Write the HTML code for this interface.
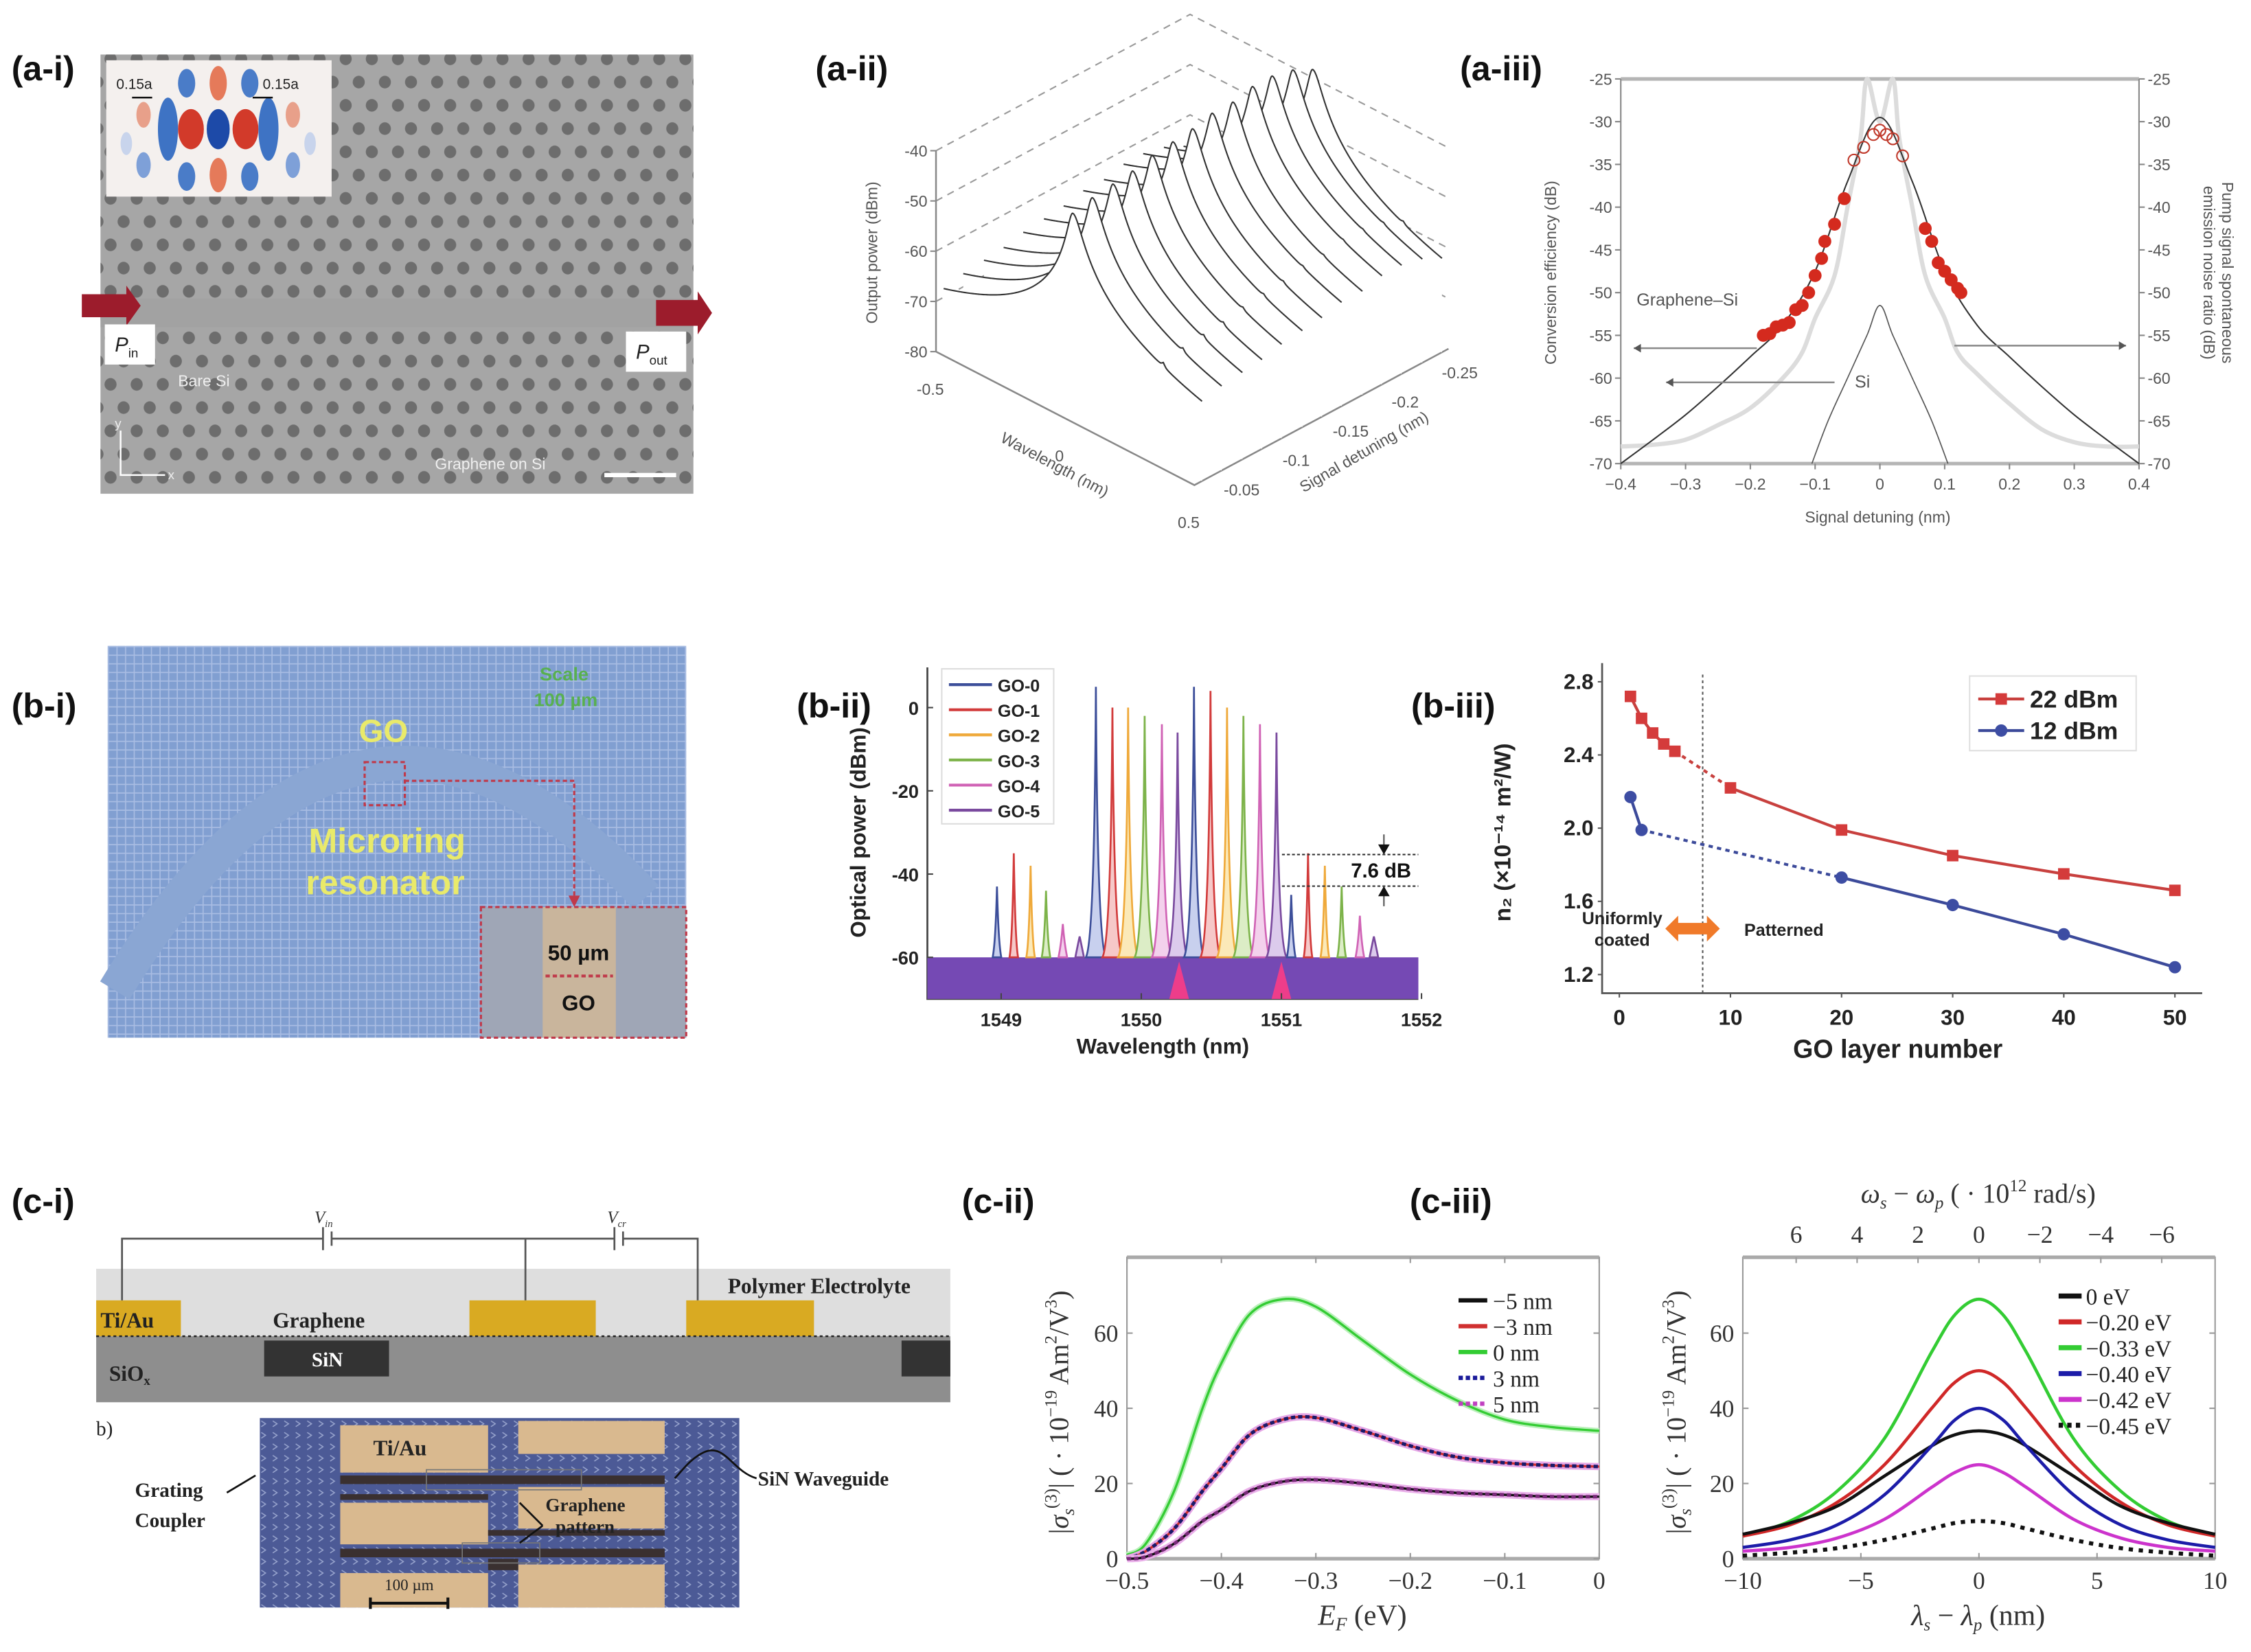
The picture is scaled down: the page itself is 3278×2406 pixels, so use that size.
<!DOCTYPE html>
<html><head><meta charset="utf-8"><style>
html,body{margin:0;padding:0;background:#fff;}
svg{display:block;}
.lbl{font-family:"Liberation Sans",sans-serif;font-weight:bold;font-size:24px;fill:#111;}
.sf{font-family:"Liberation Serif",serif;}
.ss{font-family:"Liberation Sans",sans-serif;}
</style></head><body>
<svg id="fig" xmlns="http://www.w3.org/2000/svg" width="3278" height="2406" viewBox="0 0 1568 1151" preserveAspectRatio="none">
<defs>
<pattern id="holes" x="77" y="41" width="36.4" height="32.4" patternUnits="userSpaceOnUse">
<ellipse cx="0" cy="0" rx="4.2" ry="4.4" fill="#6d6d6d"/><ellipse cx="18.2" cy="0" rx="4.2" ry="4.4" fill="#6d6d6d"/><ellipse cx="36.4" cy="0" rx="4.2" ry="4.4" fill="#6d6d6d"/>
<ellipse cx="9.1" cy="16.2" rx="4.2" ry="4.4" fill="#6d6d6d"/><ellipse cx="27.3" cy="16.2" rx="4.2" ry="4.4" fill="#6d6d6d"/>
<ellipse cx="0" cy="32.4" rx="4.2" ry="4.4" fill="#6d6d6d"/><ellipse cx="18.2" cy="32.4" rx="4.2" ry="4.4" fill="#6d6d6d"/><ellipse cx="36.4" cy="32.4" rx="4.2" ry="4.4" fill="#6d6d6d"/>
</pattern>
<pattern id="bgrid" x="75" y="450" width="6" height="6" patternUnits="userSpaceOnUse">
<rect width="6" height="6" fill="#819fd1"/><path d="M0,0.5H6M0.5,0V6" stroke="#a9bde3" stroke-width="0.8"/>
</pattern>
<pattern id="ggrid" x="181" y="988" width="8" height="8" patternUnits="userSpaceOnUse">
<rect width="8" height="8" fill="#4c5a96"/><path d="M1,2l3,2l-3,2" stroke="#9aa6cf" stroke-width="0.7" fill="none"/>
</pattern>
</defs>

<g>
<text class="lbl" x="8" y="56">(a-i)</text>
<rect x="70" y="38" width="413" height="306" fill="#a6a6a6"/>
<rect x="70" y="38" width="413" height="306" fill="url(#holes)"/>
<rect x="70" y="208" width="413" height="20" fill="#a2a2a2"/>
<rect x="74" y="42" width="157" height="95" fill="#f4f0ee"/>
<g>
<ellipse cx="133" cy="90" rx="9" ry="14" fill="#d23a2a"/><ellipse cx="152" cy="90" rx="8" ry="14" fill="#1d4aa8"/><ellipse cx="171" cy="90" rx="9" ry="14" fill="#d23a2a"/>
<ellipse cx="117" cy="90" rx="7" ry="22" fill="#3e73c4"/><ellipse cx="187" cy="90" rx="7" ry="22" fill="#3e73c4"/>
<ellipse cx="152" cy="58" rx="6" ry="12" fill="#e57a5a"/><ellipse cx="152" cy="122" rx="6" ry="12" fill="#e57a5a"/>
<ellipse cx="130" cy="58" rx="6" ry="10" fill="#4a7cc8"/><ellipse cx="174" cy="58" rx="6" ry="10" fill="#4a7cc8"/>
<ellipse cx="130" cy="123" rx="6" ry="10" fill="#4a7cc8"/><ellipse cx="174" cy="123" rx="6" ry="10" fill="#4a7cc8"/>
<ellipse cx="100" cy="80" rx="5" ry="9" fill="#e8a08a"/><ellipse cx="204" cy="80" rx="5" ry="9" fill="#e8a08a"/>
<ellipse cx="100" cy="115" rx="5" ry="9" fill="#7ea0d8"/><ellipse cx="204" cy="115" rx="5" ry="9" fill="#7ea0d8"/>
<ellipse cx="88" cy="100" rx="4" ry="8" fill="#c8d4ec"/><ellipse cx="216" cy="100" rx="4" ry="8" fill="#c8d4ec"/>
</g>
<text x="81" y="62" font-size="10" fill="#222" class="ss">0.15a</text>
<text x="183" y="62" font-size="10" fill="#222" class="ss">0.15a</text>
<path d="M92,68h14M190,68h-14" stroke="#111" stroke-width="1.2"/>
<polygon points="57,205 88,205 88,199 98,213 88,227 88,221 57,221" fill="#9c1c2c"/>
<polygon points="457,209 486,209 486,203 496,218 486,233 486,227 457,227" fill="#9c1c2c"/>
<rect x="73" y="226" width="35" height="28" fill="#fff"/>
<text x="80" y="245" font-size="14" font-style="italic" class="ss" fill="#222">P<tspan font-size="9" dy="4" font-style="normal">in</tspan></text>
<rect x="436" y="231" width="42" height="28" fill="#fff"/>
<text x="443" y="250" font-size="14" font-style="italic" class="ss" fill="#222">P<tspan font-size="9" dy="4" font-style="normal">out</tspan></text>
<text x="124" y="269" font-size="11" fill="#eee" class="ss">Bare Si</text>
<text x="303" y="327" font-size="11" fill="#eee" class="ss">Graphene on Si</text>
<path d="M421,331h50" stroke="#fff" stroke-width="3"/>
<path d="M84,300V331H115" stroke="#fff" stroke-width="1.2" fill="none"/>
<text x="80" y="298" font-size="9" fill="#eee" class="ss">y</text>
<text x="117" y="334" font-size="9" fill="#eee" class="ss">x</text>
</g>

<g id="aii">
<text class="lbl" x="568" y="56">(a-ii)</text>
</g>
<g id="aiii">
<text class="lbl" x="1017" y="56">(a-iii)</text>
</g>

<g>
<text class="lbl" x="8" y="500">(b-i)</text>
<rect x="75" y="450" width="403" height="273" fill="url(#bgrid)"/>
<path d="M80,690 Q250,410 450,625" stroke="#8aa6d3" stroke-width="24" fill="none"/>
<text x="250" y="517" font-size="22" font-weight="bold" fill="#e9ea6a" class="ss">GO</text>
<text x="215" y="594" font-size="24" font-weight="bold" fill="#e9ea6a" class="ss">Microring</text>
<text x="213" y="623" font-size="24" font-weight="bold" fill="#e9ea6a" class="ss">resonator</text>
<text x="376" y="474" font-size="13" font-weight="bold" fill="#58b050" class="ss">Scale</text>
<text x="372" y="492" font-size="13" font-weight="bold" fill="#58b050" class="ss">100 µm</text>
<rect x="254" y="531" width="28" height="30" fill="none" stroke="#c0394a" stroke-width="1.5" stroke-dasharray="3,2"/>
<path d="M282,544H400V628" stroke="#c0394a" stroke-width="1.5" stroke-dasharray="3,2" fill="none"/>
<polygon points="396,624 404,624 400,632" fill="#c0394a"/>
<rect x="335" y="632" width="143" height="91" fill="#9fa6b6"/>
<rect x="378" y="632" width="51" height="91" fill="#c9b59c"/>
<rect x="335" y="632" width="143" height="91" fill="none" stroke="#c0394a" stroke-width="1.5" stroke-dasharray="3,2"/>
<text x="403" y="669" text-anchor="middle" font-size="15" font-weight="bold" fill="#111" class="ss">50 µm</text>
<path d="M380,680H427" stroke="#c0394a" stroke-width="2" stroke-dasharray="3,2"/>
<text x="403" y="704" text-anchor="middle" font-size="15" font-weight="bold" fill="#111" class="ss">GO</text>
</g>

<g id="bii">
<text class="lbl" x="555" y="500">(b-ii)</text>
</g>
<g id="biii">
<text class="lbl" x="983" y="500">(b-iii)</text>
</g>

<g>
<text class="lbl" x="8" y="845">(c-i)</text>
<rect x="67" y="884" width="595" height="47" fill="#dedede"/>
<rect x="67" y="931" width="595" height="46" fill="#8e8e8e"/>
<rect x="67" y="906" width="59" height="25" fill="#d9aa22"/>
<rect x="327" y="906" width="88" height="25" fill="#d9aa22"/>
<rect x="478" y="906" width="89" height="25" fill="#d9aa22"/>
<path d="M67,931H662" stroke="#222" stroke-width="1.2" stroke-dasharray="2,2"/>
<rect x="184" y="934" width="87" height="25" fill="#333"/>
<rect x="628" y="934" width="34" height="25" fill="#333"/>
<path d="M85,906V863H225M231,863H428M434,863H486V906M366,863V906" stroke="#555" stroke-width="1.3" fill="none"/>
<path d="M225,855V871M231,858V868M428,855V871M434,858V868" stroke="#555" stroke-width="1.3"/>
<text x="219" y="852" font-size="12" font-style="italic" class="sf" fill="#333">V<tspan font-size="7" dy="3">in</tspan></text>
<text x="423" y="852" font-size="12" font-style="italic" class="sf" fill="#333">V<tspan font-size="7" dy="3">cr</tspan></text>
<text x="507" y="901" font-size="15" font-weight="bold" class="sf" fill="#222">Polymer Electrolyte</text>
<text x="70" y="925" font-size="15" font-weight="bold" class="sf" fill="#222">Ti/Au</text>
<text x="190" y="925" font-size="15" font-weight="bold" class="sf" fill="#222">Graphene</text>
<text x="228" y="952" text-anchor="middle" font-size="14" font-weight="bold" class="sf" fill="#fff">SiN</text>
<text x="76" y="962" font-size="15" font-weight="bold" class="sf" fill="#222">SiO<tspan font-size="9" dy="3">x</tspan></text>
<text x="67" y="1000" font-size="14" class="sf" fill="#222">b)</text>
<rect x="181" y="988" width="334" height="132" fill="url(#ggrid)"/>
<g fill="#d9b98f">
<rect x="237" y="993" width="103" height="33"/><rect x="361" y="990" width="102" height="23"/>
<rect x="237" y="1047" width="103" height="29"/><rect x="361" y="1036" width="102" height="29"/>
<rect x="237" y="1096" width="103" height="24"/><rect x="361" y="1090" width="102" height="30"/>
</g>
<g fill="#3a3030">
<rect x="237" y="1028" width="226" height="6"/><rect x="237" y="1041" width="103" height="4"/>
<rect x="237" y="1079" width="226" height="6"/><rect x="340" y="1066" width="123" height="4"/><rect x="340" y="1086" width="21" height="8"/>
</g>
<rect x="297" y="1024" width="108" height="14" fill="none" stroke="#777" stroke-width="0.8"/>
<rect x="322" y="1075" width="54" height="14" fill="none" stroke="#777" stroke-width="0.8"/>
<text x="260" y="1014" font-size="15" font-weight="bold" class="sf" fill="#222">Ti/Au</text>
<text x="380" y="1053" font-size="13" font-weight="bold" class="sf" fill="#222">Graphene</text>
<text x="387" y="1068" font-size="13" font-weight="bold" class="sf" fill="#222">pattern</text>
<path d="M378,1063L362,1047M378,1063L362,1075" stroke="#111" stroke-width="1.3"/>
<text x="528" y="1035" font-size="14" font-weight="bold" class="sf" fill="#222">SiN Waveguide</text>
<path d="M527,1030C510,1025 505,1005 490,1012 480,1017 475,1025 470,1030" stroke="#111" stroke-width="1.3" fill="none"/>
<text x="94" y="1043" font-size="14" font-weight="bold" class="sf" fill="#222">Grating</text>
<text x="94" y="1064" font-size="14" font-weight="bold" class="sf" fill="#222">Coupler</text>
<path d="M158,1040L178,1028" stroke="#111" stroke-width="1.3"/>
<path d="M258,1117H312M258,1113V1121M312,1113V1121" stroke="#111" stroke-width="2"/>
<text x="285" y="1108" text-anchor="middle" font-size="11" class="sf" fill="#222">100 µm</text>
</g>

<g id="cii">
<text class="lbl" x="670" y="845">(c-ii)</text>
</g>
<g id="ciii">
<text class="lbl" x="982" y="845">(c-iii)</text>
</g>
</svg>

<script>
const aiiDetuning = [-0.04,-0.058,-0.077,-0.095,-0.113,-0.132,-0.15,-0.168,-0.187,-0.205,-0.223,-0.242,-0.26];
const aiiPumpPeak = [-40,-39,-38.5,-38,-37,-36.5,-36,-35,-35,-34,-34,-35,-37];
const aiiIdlerPeak = [-68,-68,-68,-68,-68,-68,-68,-68,-68,-68,-68,-68,-68];
const aiiWlTicks = [-0.5,0,0.5];
const aiiDetTicks = [-0.05,-0.1,-0.15,-0.2,-0.25];
const aiiPowTicks = [-40,-50,-60,-70,-80];
const aiiiDet = [-0.4,-0.35,-0.3,-0.25,-0.2,-0.15,-0.1,-0.05,0,0.05,0.1,0.15,0.2,0.25,0.3,0.35,0.4];
const aiiiTheory = [-70,-67.2,-64.3,-61,-57.5,-53.8,-47.5,-37,-29.5,-37,-47.5,-53.8,-57.5,-61,-64.3,-67.2,-70];
const aiiiNoiseDet = [-0.4,-0.35,-0.3,-0.25,-0.2,-0.15,-0.12,-0.1,-0.07,-0.05,-0.03,-0.02,0,0.02,0.03,0.05,0.07,0.1,0.12,0.15,0.2,0.25,0.3,0.35,0.4];
const aiiiNoise = [-68,-67.8,-67.2,-65.5,-63.5,-60,-57,-53,-48,-40,-32,-25,-30,-25,-32,-40,-48,-53,-57,-59.5,-63,-66,-67.5,-68,-68];
const aiiiSiDet = [-0.105,-0.08,-0.05,-0.02,0,0.02,0.05,0.08,0.105];
const aiiiSi = [-70,-65,-60,-55,-51.5,-55,-60,-65,-70];
const aiiiDotDet = [-0.18,-0.17,-0.16,-0.15,-0.14,-0.13,-0.12,-0.11,-0.1,-0.09,-0.085,-0.07,-0.055,0.07,0.08,0.09,0.1,0.11,0.12,0.125];
const aiiiDotVal = [-55,-54.8,-54,-53.8,-53.5,-52,-51.5,-50,-48,-46,-44,-42,-39,-42.5,-44,-46.5,-47.5,-48.5,-49.5,-50];
const aiiiOpenDet = [-0.04,-0.025,-0.01,0,0.01,0.02,0.035];
const aiiiOpenVal = [-34.5,-33,-31.5,-31,-31.5,-32,-34];
const aiiiXTicks = [-0.4,-0.3,-0.2,-0.1,0,0.1,0.2,0.3,0.4];
const aiiiYTicks = [-25,-30,-35,-40,-45,-50,-55,-60,-65,-70];
const biiPeakWl = [1548.97,1549.09,1549.21,1549.32,1549.44,1549.56,1549.676,1549.794,1549.906,1550.024,1550.147,1550.259,1550.376,1550.494,1550.612,1550.729,1550.847,1550.965,1551.07,1551.19,1551.31,1551.43,1551.56,1551.66];
const biiPeakDb = [-43,-35,-38,-44,-52,-55,5,0,0,-2,-4,-6,5,4,0,-2,-4,-6,-45,-35,-38,-43,-50,-55];
const biiPeakGo = [0,1,2,3,4,5,0,1,2,3,4,5,0,1,2,3,4,5,0,1,2,3,4,5];
const biiGoNames = ['GO-0','GO-1','GO-2','GO-3','GO-4','GO-5'];
const biiXTicks = [1549,1550,1551,1552];
const biiYTicks = [0,-20,-40,-60];
const biiiLayersA = [1,2,3,4,5,10,20,30,40,50];
const biii22dBm = [2.72,2.6,2.52,2.46,2.42,2.22,1.99,1.85,1.75,1.66];
const biiiLayersB = [1,2,20,30,40,50];
const biii12dBm = [2.17,1.99,1.73,1.58,1.42,1.24];
const biiiXTicks = [0,10,20,30,40,50];
const biiiYTicks = [2.8,2.4,2.0,1.6,1.2];
const ciiEf = [-0.5,-0.48,-0.45,-0.42,-0.4,-0.37,-0.335,-0.3,-0.25,-0.2,-0.15,-0.1,-0.05,0];
const cii0nm = [1,4,18,40,52,65,69,67,58,49,42,37,35,34];
const cii3nm = [0,2,8,18,24,33,37,37.5,34,30,27,25.5,24.8,24.5];
const cii5nm = [0,0.5,4,10,13,18,20.5,21,20,18.5,17.5,17,16.5,16.5];
const ciiXTicks = [-0.5,-0.4,-0.3,-0.2,-0.1,0];
const ciiYTicks = [0,20,40,60];
const ciiiLam = [-10,-8,-6,-4,-2,-1,0,1,2,4,6,8,10];
const ciii0eV = [6.5,9.5,14,22,30,33,34,33,30,22,14,9.5,6.5];
const ciii020eV = [6,9,15,25,40,47,50,47,40,25,15,9,6];
const ciii033eV = [6,10,18,32,55,65,69,65,55,32,18,10,6];
const ciii040eV = [3,5,9,17,30,37,40,37,30,17,9,5,3];
const ciii042eV = [2,3,5.5,10.5,19,23,25,23,19,10.5,5.5,3,2];
const ciii045eV = [0.8,1.6,2.8,5,8,9.5,10,9.5,8,5,2.8,1.6,0.8];
const ciiiXTicks = [-10,-5,0,5,10];
const ciiiTopTicks = [6,4,2,0,-2,-4,-6];
const ciiiYTicks = [0,20,40,60];

const NS='http://www.w3.org/2000/svg';
function mk(parent, tag, attrs, name){
  const e=document.createElementNS(NS,tag);
  for(const k in attrs) e.setAttribute(k,attrs[k]);
  
  
  parent.appendChild(e); return e;
}
function txt(parent,x,y,s,attrs,name){ const e=mk(parent,'text',Object.assign({x:x,y:y},attrs),name); e.textContent=s; return e; }
function smooth(p){
  let d='M'+p[0][0].toFixed(2)+','+p[0][1].toFixed(2);
  for(let i=0;i<p.length-1;i++){
    const p0=p[Math.max(0,i-1)],p1=p[i],p2=p[i+1],p3=p[Math.min(p.length-1,i+2)];
    const c1=[p1[0]+(p2[0]-p0[0])/6,p1[1]+(p2[1]-p0[1])/6];
    const c2=[p2[0]-(p3[0]-p1[0])/6,p2[1]-(p3[1]-p1[1])/6];
    d+=' C'+c1[0].toFixed(2)+','+c1[1].toFixed(2)+' '+c2[0].toFixed(2)+','+c2[1].toFixed(2)+' '+p2[0].toFixed(2)+','+p2[1].toFixed(2);
  }
  return d;
}
function poly(p){ return 'M'+p.map(q=>q[0].toFixed(2)+','+q[1].toFixed(2)).join(' L'); }

(function(){
  const g=document.getElementById('aii');
  const O=[652,245], WV=[180,93], DV=[177,-95], HP=3.5, d0=-0.033, d1=-0.266;
  const P=(wl,det,p)=>{const u=(wl+0.5), v=(det-d0)/(d1-d0); return [O[0]+u*WV[0]+v*DV[0], O[1]+u*WV[1]+v*DV[1]-(p+80)*HP];};
  [-40,-50,-60,-70].forEach(p=>{
    const a=P(-0.5,d0,p), b=P(-0.5,d1,p), c=P(0.5,d1,p);
    mk(g,'path',{d:'M'+a+' L'+b+' L'+c,stroke:'#999','stroke-width':1,'stroke-dasharray':'5,4',fill:'none'},'grid-dashed-'+p);
  });
  const f0=P(-0.5,d0,-80), f1=P(0.5,d0,-80), f2=P(0.5,d1,-80);
  mk(g,'path',{d:'M'+f0+' L'+f1+' L'+f2,stroke:'#888','stroke-width':1.2,fill:'none'},'floor-axes');
  const top=P(-0.5,d0,-40);
  mk(g,'path',{d:'M'+f0+' L'+top,stroke:'#888','stroke-width':1.2},'power-axis');
  aiiPowTicks.forEach(p=>{const q=P(-0.5,d0,p);
    mk(g,'path',{d:'M'+q+' l-4,0',stroke:'#888'},'power-tick');
    txt(g,q[0]-6,q[1]+4,String(p),{'text-anchor':'end','font-size':11,fill:'#555',class:'ss'},'power-tick-label');});
  aiiWlTicks.forEach(w=>{const q=P(w,d0,-80);
    txt(g,q[0]-4,q[1]+30,String(w),{'text-anchor':'middle','font-size':11,fill:'#555',class:'ss'},'wavelength-tick-label');});
  aiiDetTicks.forEach(dt=>{const q=P(0.5,dt,-80);
    txt(g,q[0]+20,q[1]+14,String(dt),{'text-anchor':'middle','font-size':11,fill:'#555',class:'ss'},'detuning-tick-label');});
  txt(g,0,0,'Output power (dBm)',{transform:'translate(611,176) rotate(-90)','text-anchor':'middle','font-size':11,fill:'#555',class:'ss'},'power-axis-title');
  txt(g,0,0,'Wavelength (nm)',{transform:'translate(733,327) rotate(28)','text-anchor':'middle','font-size':11,fill:'#555',class:'ss'},'wavelength-axis-title');
  txt(g,0,0,'Signal detuning (nm)',{transform:'translate(952,318) rotate(-30)','text-anchor':'middle','font-size':11,fill:'#555',class:'ss'},'detuning-axis-title');
  const wls=[];
  for(let i=0;i<=200;i++) wls.push(-0.5+i/200);
  for(let i=0;i<=160;i++) wls.push(-0.08+i*0.001);
  wls.sort((a,b)=>a-b);
  for(let k=aiiDetuning.length-1;k>=0;k--){
    const det=aiiDetuning[k], pk=aiiPumpPeak[k], id=aiiIdlerPeak[k];
    const pts=[];
    wls.forEach(wl=>{
      const dx=wl;
      const w = dx<0?0.018:0.03;
      let lin=Math.pow(10,pk/10)/(1+(dx/w)*(dx/w));
      lin+=Math.pow(10,id/10)/(1+((wl-0.35)/0.006)*((wl-0.35)/0.006));
      lin+=Math.pow(10,-77/10)*(1+0.4*(wl+0.5));
      pts.push(P(wl,det,10*Math.log10(lin)));
    });
    const b0=P(0.5,det,-80), b1=P(-0.5,det,-80);
    mk(g,'path',{d:poly(pts)+' L'+b0+' L'+b1+' Z',fill:'#fff',stroke:'none'},'trace-fill');
    mk(g,'path',{d:poly(pts),fill:'none',stroke:'#333','stroke-width':1},'trace-'+det);
  }
})();

(function(){
  const g=document.getElementById('aiii');
  const X0=1129,X1=1490,Y0=55,Y1=323;
  const sx=v=>X0+(v+0.4)/0.8*(X1-X0), sy=v=>Y0+(-25-v)/45*(Y1-Y0);
  mk(g,'path',{d:`M${X0},${Y0}H${X1}M${X0},${Y1}H${X1}`,stroke:'#b5b5b5','stroke-width':2.5},'frame-top-bottom');
  mk(g,'path',{d:`M${X0},${Y0}V${Y1}M${X1},${Y0}V${Y1}`,stroke:'#888','stroke-width':1},'frame-sides');
  aiiiYTicks.forEach(v=>{
    mk(g,'path',{d:`M${X0-4},${sy(v)}H${X0}M${X1},${sy(v)}H${X1+4}`,stroke:'#888'},'y-tick');
    txt(g,X0-6,sy(v)+4,String(v),{'text-anchor':'end','font-size':11,fill:'#555',class:'ss'},'y-tick-label-left');
    txt(g,X1+6,sy(v)+4,String(v),{'font-size':11,fill:'#555',class:'ss'},'y-tick-label-right');
  });
  aiiiXTicks.forEach(v=>{
    mk(g,'path',{d:`M${sx(v)},${Y1}v4`,stroke:'#888'},'x-tick');
    txt(g,sx(v),Y1+18,String(v).replace('-','\u2212'),{'text-anchor':'middle','font-size':11,fill:'#555',class:'ss'},'x-tick-label');
  });
  txt(g,1308,364,'Signal detuning (nm)',{'text-anchor':'middle','font-size':11,fill:'#555',class:'ss'},'x-axis-title');
  txt(g,0,0,'Conversion efficiency (dB)',{transform:'translate(1084,190) rotate(-90)','text-anchor':'middle','font-size':11,fill:'#555',class:'ss'},'y-axis-title-left');
  txt(g,0,0,'Pump signal spontaneous',{transform:'translate(1548,190) rotate(90)','text-anchor':'middle','font-size':11,fill:'#555',class:'ss'},'y-axis-title-right-1');
  txt(g,0,0,'emission noise ratio (dB)',{transform:'translate(1535,190) rotate(90)','text-anchor':'middle','font-size':11,fill:'#555',class:'ss'},'y-axis-title-right-2');
  mk(g,'path',{d:smooth(aiiiNoiseDet.map((d,i)=>[sx(d),sy(aiiiNoise[i])])),fill:'none',stroke:'#dcdcdc','stroke-width':3},'noise-ratio-curve');
  mk(g,'path',{d:smooth(aiiiDet.map((d,i)=>[sx(d),sy(aiiiTheory[i])])),fill:'none',stroke:'#333','stroke-width':1},'graphene-si-theory');
  mk(g,'path',{d:smooth(aiiiSiDet.map((d,i)=>[sx(d),sy(aiiiSi[i])])),fill:'none',stroke:'#555','stroke-width':0.8},'si-theory');
  aiiiDotDet.forEach((d,i)=>mk(g,'circle',{cx:sx(d),cy:sy(aiiiDotVal[i]),r:4.5,fill:'#d42a1e'},'graphene-si-data-point'));
  aiiiOpenDet.forEach((d,i)=>mk(g,'circle',{cx:sx(d),cy:sy(aiiiOpenVal[i]),r:4,fill:'none',stroke:'#c0392b','stroke-width':1},'open-data-point'));
  txt(g,1140,213,'Graphene\u2013Si',{'font-size':12,fill:'#555',class:'ss'},'graphene-si-label');
  txt(g,1292,270,'Si',{'font-size':12,fill:'#555',class:'ss'},'si-label');
  mk(g,'path',{d:`M${sx(-0.19)},${sy(-56.5)}H${sx(-0.38)}M${sx(-0.07)},${sy(-60.5)}H${sx(-0.33)}M${sx(0.115)},${sy(-56.2)}H${sx(0.38)}`,stroke:'#888','stroke-width':1.2},'arrow-lines');
  mk(g,'path',{d:`M${sx(-0.38)},${sy(-56.5)}l5,-3v6zM${sx(-0.33)},${sy(-60.5)}l5,-3v6zM${sx(0.38)},${sy(-56.2)}l-5,-3v6z`,fill:'#555'},'arrow-heads');
})();

(function(){
  const g=document.getElementById('bii');
  const X0=646,X1=988,Y0=465,Y1=696;
  const sx=v=>795+(v-1550)*97.6, sy=v=>667+(-60-v)*2.9;
  const cols=['#3d4f9a','#d23b3b','#efa93a','#7db34a','#d063b5','#7a4a9e'];
  const fills=['#c8d0ee','#f6c8c8','#fbe9b8','#dcedc6','#f3d1ec','#dccbec'];
  mk(g,'path',{d:`M${X0},${Y0}V${Y1}H${X1}`,stroke:'#444','stroke-width':1.3,fill:'none'},'axes');
  mk(g,'rect',{x:X0,y:sy(-60),width:X1-X0,height:Y1-sy(-60),fill:'#7549b4'},'noise-floor');
  biiPeakWl.forEach((w,i)=>{
    const x=sx(w), yt=sy(biiPeakDb[i]), yb=sy(-60), hw=biiPeakDb[i]>-20?7:3;
    mk(g,'path',{d:`M${x-hw},${yb} Q${x-1},${yb-10} ${x},${yt} Q${x+1},${yb-10} ${x+hw},${yb} Z`,fill:fills[biiPeakGo[i]],stroke:cols[biiPeakGo[i]],'stroke-width':1.3},'peak-'+biiGoNames[biiPeakGo[i]]);
  });
  mk(g,'path',{d:`M${sx(1550.2)},${sy(-70)} L${sx(1550.27)},${sy(-61)} L${sx(1550.34)},${sy(-70)}Z M${sx(1550.93)},${sy(-70)} L${sx(1551.0)},${sy(-61)} L${sx(1551.07)},${sy(-70)}Z`,fill:'#ee3d8a'},'floor-pink-spots');
  biiYTicks.forEach(v=>{mk(g,'path',{d:`M${X0},${sy(v)}h4`,stroke:'#444'},'y-tick');
    txt(g,X0-6,sy(v)+5,String(v),{'text-anchor':'end','font-size':13,'font-weight':'bold',fill:'#222',class:'ss'},'y-tick-label');});
  biiXTicks.forEach(v=>{mk(g,'path',{d:`M${sx(v)},${Y1}v-4`,stroke:'#444'},'x-tick');
    txt(g,sx(v),Y1+19,String(v),{'text-anchor':'middle','font-size':13,'font-weight':'bold',fill:'#222',class:'ss'},'x-tick-label');});
  txt(g,810,734,'Wavelength (nm)',{'text-anchor':'middle','font-size':15,'font-weight':'bold',fill:'#222',class:'ss'},'x-axis-title');
  txt(g,0,0,'Optical power (dBm)',{transform:'translate(603,580) rotate(-90)','text-anchor':'middle','font-size':15,'font-weight':'bold',fill:'#222',class:'ss'},'y-axis-title');
  mk(g,'rect',{x:656,y:466,width:78,height:108,fill:'#fff',stroke:'#ddd'},'legend-box');
  biiGoNames.forEach((n,i)=>{const y=477+i*17.5;
    mk(g,'path',{d:`M661,${y}h30`,stroke:cols[i],'stroke-width':2},'legend-swatch-'+n);
    txt(g,695,y+5,n,{'font-size':12,'font-weight':'bold',fill:'#222',class:'ss'},'legend-entry-'+n);});
  mk(g,'path',{d:`M893,${sy(-35.3)}H988M893,${sy(-42.9)}H988`,stroke:'#333','stroke-width':1,'stroke-dasharray':'2,1.5'},'annotation-lines');
  mk(g,'path',{d:`M964,${sy(-35.3)-14}V${sy(-35.3)}M964,${sy(-42.9)}V${sy(-42.9)+14}`,stroke:'#555','stroke-width':1},'annotation-arrow-stems');
  mk(g,'path',{d:`M960,${sy(-35.3)-7}h8l-4,7zM960,${sy(-42.9)+7}h8l-4,-7z`,fill:'#111'},'annotation-arrow-heads');
  txt(g,962,sy(-39.1)+5,'7.6 dB',{'text-anchor':'middle','font-size':14,'font-weight':'bold',fill:'#111',class:'ss'},'annotation-7-6-db');
})();

(function(){
  const g=document.getElementById('biii');
  const X0=1116,X1=1534,Y1=692;
  const sx=v=>1128+v*7.74, sy=v=>475+(2.8-v)*127.5;
  mk(g,'path',{d:`M${X0},462V${Y1}H${X1}`,stroke:'#555','stroke-width':1.3,fill:'none'},'axes');
  biiiYTicks.forEach(v=>{mk(g,'path',{d:`M${X0},${sy(v)}h-3`,stroke:'#555'},'y-tick');
    txt(g,X0-6,sy(v)+5,v.toFixed(1),{'text-anchor':'end','font-size':15,'font-weight':'bold',fill:'#222',class:'ss'},'y-tick-label');});
  biiiXTicks.forEach(v=>{mk(g,'path',{d:`M${sx(v)},${Y1}v3`,stroke:'#555'},'x-tick');
    txt(g,sx(v),Y1+22,String(v),{'text-anchor':'middle','font-size':15,'font-weight':'bold',fill:'#222',class:'ss'},'x-tick-label');});
  txt(g,1322,737,'GO layer number',{'text-anchor':'middle','font-size':18,'font-weight':'bold',fill:'#222',class:'ss'},'x-axis-title');
  txt(g,0,0,'n\u2082 (\u00d710\u207b\u00b9\u2074 m\u00b2/W)',{transform:'translate(1052,580) rotate(-90)','text-anchor':'middle','font-size':16,'font-weight':'bold',fill:'#222',class:'ss'},'y-axis-title');
  mk(g,'path',{d:`M${sx(7.5)},470V${Y1}`,stroke:'#555','stroke-width':1,'stroke-dasharray':'2,2'},'divider-line');
  const ra=biiiLayersA.map((x,i)=>[sx(x),sy(biii22dBm[i])]);
  mk(g,'path',{d:poly(ra.slice(0,5)),stroke:'#c8403e','stroke-width':2,fill:'none'},'series-22dbm-line-a');
  mk(g,'path',{d:poly(ra.slice(4,6)),stroke:'#c8403e','stroke-width':2,fill:'none','stroke-dasharray':'3,3'},'series-22dbm-dashed');
  mk(g,'path',{d:poly(ra.slice(5)),stroke:'#c8403e','stroke-width':2,fill:'none'},'series-22dbm-line-b');
  ra.forEach(p=>mk(g,'rect',{x:p[0]-4,y:p[1]-4,width:8,height:8,fill:'#d43b3b'},'point-22dbm'));
  const rb=biiiLayersB.map((x,i)=>[sx(x),sy(biii12dBm[i])]);
  mk(g,'path',{d:poly(rb.slice(0,2)),stroke:'#3c4a9a','stroke-width':2,fill:'none'},'series-12dbm-line-a');
  mk(g,'path',{d:poly(rb.slice(1,3)),stroke:'#3c4a9a','stroke-width':2,fill:'none','stroke-dasharray':'3,3'},'series-12dbm-dashed');
  mk(g,'path',{d:poly(rb.slice(2)),stroke:'#3c4a9a','stroke-width':2,fill:'none'},'series-12dbm-line-b');
  rb.forEach(p=>mk(g,'circle',{cx:p[0],cy:p[1],r:4.3,fill:'#3d4da3'},'point-12dbm'));
  mk(g,'rect',{x:1372,y:471,width:116,height:52,fill:'#fff',stroke:'#e0e0e0'},'legend-box');
  mk(g,'path',{d:'M1378,487h32',stroke:'#c8403e','stroke-width':2},'legend-swatch-22dbm');
  mk(g,'rect',{x:1390,y:483,width:8,height:8,fill:'#d43b3b'},'legend-marker-22dbm');
  txt(g,1414,493,'22 dBm',{'font-size':17,'font-weight':'bold',fill:'#222',class:'ss'},'legend-entry-22dbm');
  mk(g,'path',{d:'M1378,509h32',stroke:'#3c4a9a','stroke-width':2},'legend-swatch-12dbm');
  mk(g,'circle',{cx:1394,cy:509,r:4.3,fill:'#3d4da3'},'legend-marker-12dbm');
  txt(g,1414,515,'12 dBm',{'font-size':17,'font-weight':'bold',fill:'#222',class:'ss'},'legend-entry-12dbm');
  txt(g,1130,644,'Uniformly',{'text-anchor':'middle','font-size':12,'font-weight':'bold',fill:'#222',class:'ss'},'uniformly-label');
  txt(g,1130,659,'coated',{'text-anchor':'middle','font-size':12,'font-weight':'bold',fill:'#222',class:'ss'},'coated-label');
  mk(g,'path',{d:'M1160,647l9,-9v5h20v-5l9,9l-9,9v-5h-20v5z',fill:'#f07a2a'},'region-arrow');
  txt(g,1215,652,'Patterned',{'font-size':12,'font-weight':'bold',fill:'#222',class:'ss'},'patterned-label');
})();

(function(){
  const g=document.getElementById('cii');
  const X0=785,X1=1114,Y0=876,Y1=1086;
  const sx=v=>X0+(v+0.5)/0.5*(X1-X0), sy=v=>Y1-v*2.62;
  mk(g,'rect',{x:X0,y:Y0,width:X1-X0,height:Y1-Y0,fill:'none',stroke:'#999','stroke-width':1},'plot-frame');
  mk(g,'path',{d:`M${X0},${Y0}H${X1}M${X0},${Y1}H${X1}`,stroke:'#aaa','stroke-width':2.5},'frame-top-bottom');
  ciiYTicks.forEach(v=>{mk(g,'path',{d:`M${X0},${sy(v)}h4M${X1},${sy(v)}h-4`,stroke:'#999'},'y-tick');
    txt(g,X0-6,sy(v)+6,String(v),{'text-anchor':'end','font-size':17,fill:'#333',class:'sf'},'y-tick-label');});
  ciiXTicks.forEach(v=>{mk(g,'path',{d:`M${sx(v)},${Y1}v-4M${sx(v)},${Y0}v4`,stroke:'#999'},'x-tick');
    txt(g,sx(v),Y1+21,String(v).replace('-','\u2212'),{'text-anchor':'middle','font-size':17,fill:'#333',class:'sf'},'x-tick-label');});
  txt(g,949,1132,'',{'text-anchor':'middle','font-size':20,fill:'#333',class:'sf'},'x-axis-title').innerHTML='<tspan font-style="italic">E</tspan><tspan font-style="italic" font-size="13" dy="4">F</tspan><tspan dy="-4"> (eV)</tspan>';
  txt(g,0,0,'',{transform:'translate(744,984) rotate(-90)','text-anchor':'middle','font-size':19,fill:'#333',class:'sf'},'y-axis-title').innerHTML='|<tspan font-style="italic">σ</tspan><tspan font-size="12" dy="4" font-style="italic">s</tspan><tspan font-size="12" dy="-12">(3)</tspan><tspan dy="8">| ( · 10</tspan><tspan font-size="12" dy="-8">−19</tspan><tspan dy="8"> Am</tspan><tspan font-size="12" dy="-8">2</tspan><tspan dy="8">/V</tspan><tspan font-size="12" dy="-8">3</tspan><tspan dy="8">)</tspan>';
  const P=arr=>smooth(ciiEf.map((e,i)=>[sx(e),sy(arr[i])]));
  mk(g,'path',{d:P(cii0nm),stroke:'#b9f0b9','stroke-width':4,fill:'none'},'curve-0nm-glow');
  mk(g,'path',{d:P(cii0nm),stroke:'#33cc33','stroke-width':1.6,fill:'none'},'curve-0nm');
  mk(g,'path',{d:P(cii3nm),stroke:'#e6a6e6','stroke-width':5,fill:'none'},'curve-3nm-glow');
  mk(g,'path',{d:P(cii3nm),stroke:'#d03030','stroke-width':1.6,fill:'none'},'curve-minus3nm');
  mk(g,'path',{d:P(cii3nm),stroke:'#1a1a6a','stroke-width':2.4,fill:'none','stroke-dasharray':'3,2'},'curve-3nm');
  mk(g,'path',{d:P(cii5nm),stroke:'#eab0ea','stroke-width':5,fill:'none'},'curve-5nm-glow');
  mk(g,'path',{d:P(cii5nm),stroke:'#111','stroke-width':1.6,fill:'none'},'curve-minus5nm');
  mk(g,'path',{d:P(cii5nm),stroke:'#7a2a7a','stroke-width':2.4,fill:'none','stroke-dasharray':'3,2'},'curve-5nm');
  const names=['\u22125 nm','\u22123 nm','0 nm','3 nm','5 nm'], cols=['#111','#d03030','#33cc33','#1a1a9a','#c040c0'], dash=['','','','3,2','3,2'];
  names.forEach((n,i)=>{const y=906+i*18;
    mk(g,'path',{d:`M1016,${y}h20`,stroke:cols[i],'stroke-width':3,'stroke-dasharray':dash[i]||'none'},'legend-swatch');
    txt(g,1040,y+6,n,{'font-size':16,fill:'#222',class:'sf'},'legend-entry');});
})();

(function(){
  const g=document.getElementById('ciii');
  const X0=1214,X1=1543,Y0=876,Y1=1086;
  const sx=v=>X0+(v+10)/20*(X1-X0), sy=v=>Y1-v*2.62;
  mk(g,'rect',{x:X0,y:Y0,width:X1-X0,height:Y1-Y0,fill:'none',stroke:'#999','stroke-width':1},'plot-frame');
  mk(g,'path',{d:`M${X0},${Y0}H${X1}M${X0},${Y1}H${X1}`,stroke:'#aaa','stroke-width':2.5},'frame-top-bottom');
  ciiiYTicks.forEach(v=>{mk(g,'path',{d:`M${X0},${sy(v)}h4M${X1},${sy(v)}h-4`,stroke:'#999'},'y-tick');
    txt(g,X0-6,sy(v)+6,String(v),{'text-anchor':'end','font-size':17,fill:'#333',class:'sf'},'y-tick-label');});
  ciiiXTicks.forEach(v=>{mk(g,'path',{d:`M${sx(v)},${Y1}v-4`,stroke:'#999'},'x-tick');
    txt(g,sx(v),Y1+21,String(v).replace('-','\u2212'),{'text-anchor':'middle','font-size':17,fill:'#333',class:'sf'},'x-tick-label');});
  ciiiTopTicks.forEach(w=>{const x=sx(-w*1.29);
    mk(g,'path',{d:`M${x},${Y0}v4`,stroke:'#999'},'top-tick');
    txt(g,x,Y0-10,String(w).replace('-','\u2212'),{'text-anchor':'middle','font-size':17,fill:'#333',class:'sf'},'top-tick-label');});
  txt(g,1378,838,'',{'text-anchor':'middle','font-size':19,fill:'#333',class:'sf'},'top-axis-title').innerHTML='<tspan font-style="italic">ω</tspan><tspan font-size="12" dy="4" font-style="italic">s</tspan><tspan dy="-4"> − </tspan><tspan font-style="italic">ω</tspan><tspan font-size="12" dy="4" font-style="italic">p</tspan><tspan dy="-4"> ( · 10</tspan><tspan font-size="12" dy="-8">12</tspan><tspan dy="8"> rad/s)</tspan>';
  txt(g,1378,1132,'',{'text-anchor':'middle','font-size':20,fill:'#333',class:'sf'},'x-axis-title').innerHTML='<tspan font-style="italic">λ</tspan><tspan font-size="12" dy="4" font-style="italic">s</tspan><tspan dy="-4"> − </tspan><tspan font-style="italic">λ</tspan><tspan font-size="12" dy="4" font-style="italic">p</tspan><tspan dy="-4"> (nm)</tspan>';
  txt(g,0,0,'',{transform:'translate(1174,984) rotate(-90)','text-anchor':'middle','font-size':19,fill:'#333',class:'sf'},'y-axis-title').innerHTML='|<tspan font-style="italic">σ</tspan><tspan font-size="12" dy="4" font-style="italic">s</tspan><tspan font-size="12" dy="-12">(3)</tspan><tspan dy="8">| ( · 10</tspan><tspan font-size="12" dy="-8">−19</tspan><tspan dy="8"> Am</tspan><tspan font-size="12" dy="-8">2</tspan><tspan dy="8">/V</tspan><tspan font-size="12" dy="-8">3</tspan><tspan dy="8">)</tspan>';
  const series=[ciii0eV,ciii020eV,ciii033eV,ciii040eV,ciii042eV,ciii045eV];
  const names=['0 eV','\u22120.20 eV','\u22120.33 eV','\u22120.40 eV','\u22120.42 eV','\u22120.45 eV'];
  const cols=['#111','#d02828','#33cc33','#1c1ca8','#cc33cc','#111'];
  const order=[2,1,0,3,4,5];
  order.forEach(i=>{
    const d=smooth(ciiiLam.map((l,j)=>[sx(l),sy(series[i][j])]));
    if(i===5){ mk(g,'path',{d:d,stroke:'#111','stroke-width':2.8,fill:'none','stroke-dasharray':'3,4'},'curve-'+names[i]); }
    else { mk(g,'path',{d:d,stroke:cols[i],'stroke-width':2.2,fill:'none'},'curve-'+names[i]); }
  });
  names.forEach((n,i)=>{const y=903+i*18;
    mk(g,'path',{d:`M1434,${y}h16`,stroke:cols[i],'stroke-width':3.5,'stroke-dasharray':i===5?'3,3':'none'},'legend-swatch');
    txt(g,1453,y+6,n,{'font-size':16,fill:'#222',class:'sf'},'legend-entry');});
})();
</script>
</body></html>
